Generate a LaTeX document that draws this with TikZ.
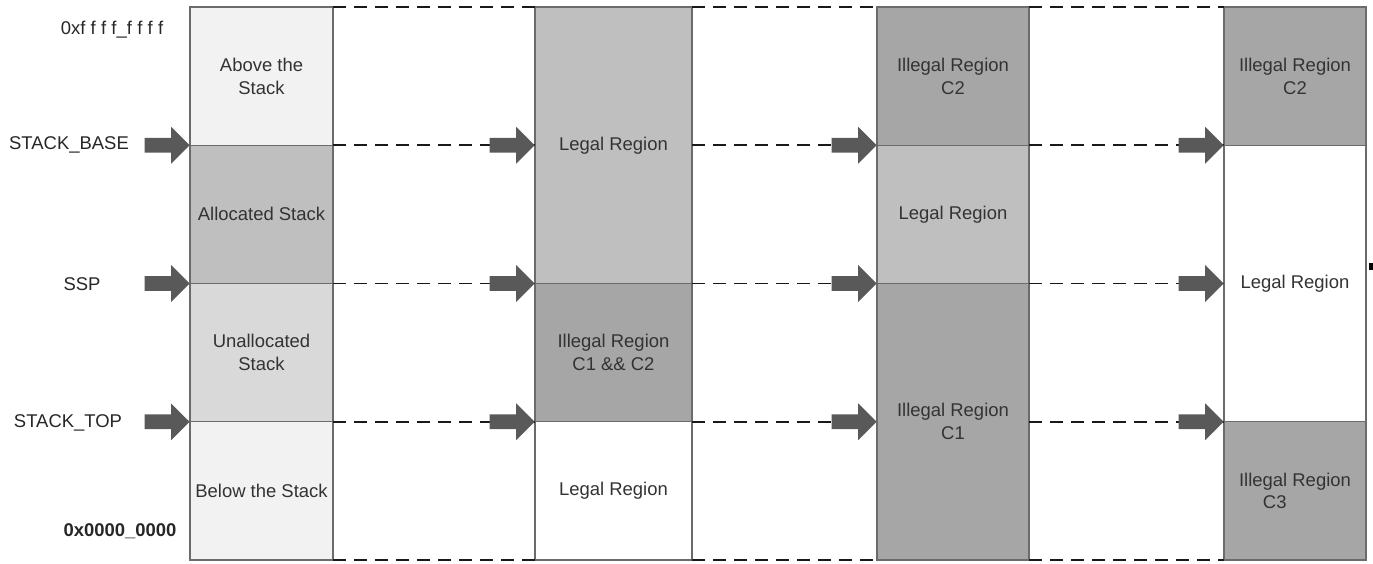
\documentclass[tikz,border=0pt]{standalone}
\usepackage{fontspec}
\setmainfont{Liberation Sans}
\usetikzlibrary{positioning,shapes.arrows}
\definecolor{lite}{HTML}{F2F2F2}
\definecolor{soft}{HTML}{D9D9D9}
\definecolor{legalgray}{HTML}{BFBFBF}
\definecolor{illegalgray}{HTML}{A6A6A6}
\newcommand{\fs}{\kern3pt}

\begin{document}
\begin{tikzpicture}[font=\fontsize{10.5}{13}\selectfont]
\tikzstyle{r}=[draw=black!58,line width=0.8pt,outer sep=0pt,inner sep=0pt,align=center,text=black!80,minimum height=2.765cm]
\tikzstyle{dbl}=[minimum height=5.53cm]
\tikzstyle{ptr}=[single arrow,fill=black!65,inner sep=0.14cm,minimum height=0.9cm,minimum width=0.72cm,single arrow head extend=0.22cm,anchor=tip]
\tikzstyle{guide}=[dash pattern=on 0.26cm off 0.16cm,line width=1pt,black!90]
\tikzstyle{lbl}=[text=black!85]
\useasboundingbox (0,0) rectangle (27.46,-11.26);

% stack as laid out in memory
\node[r,minimum width=2.86cm,fill=lite] (above) at (5.23,-1.5225) {Above the\\Stack};
\node[r,minimum width=2.86cm,fill=legalgray,below=0pt of above] (alloc) {Allocated Stack};
\node[r,minimum width=2.86cm,fill=soft,below=0pt of alloc] (unalloc) {Unallocated\\Stack};
\node[r,minimum width=2.86cm,fill=lite,below=0pt of unalloc] (below) {Below the Stack};

% condition C1
\node[r,dbl,minimum width=3.14cm,fill=legalgray] (legA) at (12.27,-2.905) {Legal Region};
\node[r,minimum width=3.14cm,fill=illegalgray,below=0pt of legA] (illA) {Illegal Region\\C1 \&\& C2};
\node[r,minimum width=3.14cm,fill=white,below=0pt of illA] (legB) {Legal Region};

% condition C2
\node[r,minimum width=3.04cm,fill=illegalgray] (illC2) at (19.06,-1.5225) {Illegal Region\\C2};
\node[r,minimum width=3.04cm,fill=legalgray,below=0pt of illC2] (legC) {Legal Region};
\node[r,dbl,minimum width=3.04cm,fill=illegalgray,below=0pt of legC] (illC1) {Illegal Region\\C1};

% condition C3
\node[r,minimum width=2.84cm,fill=illegalgray] (illD) at (25.90,-1.5225) {Illegal Region\\C2};
\node[r,dbl,minimum width=2.84cm,fill=white,below=0pt of illD] (legD) {Legal Region};
\node[r,minimum width=2.84cm,fill=illegalgray,below=0pt of legD] (illC3) {Illegal Region\\\hspace*{-2.2em}C3};

% addresses and pointers
\node[lbl] (hi) at (2.24,-0.6) {0xf\fs f\fs f\fs f\_f\fs f\fs f\fs f};
\node[lbl] (base) at (1.38,-2.9) {STACK\_BASE};
\node[lbl] (ssp) at (1.64,-5.68) {SSP};
\node[lbl] (top) at (1.36,-8.46) {STACK\_TOP};
\node[lbl,font=\fontsize{10.5}{13}\selectfont\bfseries] (lo) at (2.4,-10.62) {0x0000\_0000};

% boundaries carried across
\foreach \a/\b in {above.north east/legA.west,above.south east/legA.west,alloc.south east/legA.west,unalloc.south east/legA.west,below.south east/legA.west,
  legA.north east/illC2.west,legA.east/illC2.west,legA.south east/illC2.west,illA.south east/illC2.west,legB.south east/illC2.west,
  illC2.north east/illD.west,illC2.south east/illD.west,legC.south east/illD.west,illC1.east/illD.west,illC1.south east/illD.west}
  \draw[guide] (\a) -- (\a -| \b);

\foreach \t/\n in {above.south west/p1,alloc.south west/p2,unalloc.south west/p3,
  legA.west/p4,legA.south west/p5,illA.south west/p6,
  illC2.south west/p7,legC.south west/p8,illC1.west/p9,
  illD.south west/p10,legD.west/p11,legD.south west/p12}
  \node[ptr] (\n) at (\t) {};

\fill (27.37,-5.25) rectangle (27.46,-5.39);
\end{tikzpicture}
\end{document}
